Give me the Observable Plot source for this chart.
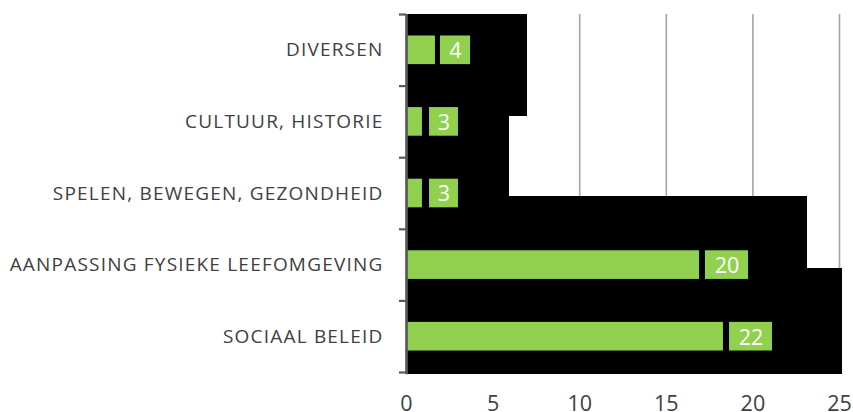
<!DOCTYPE html>
<html>
<head>
<meta charset="utf-8">
<script src="https://cdn.jsdelivr.net/npm/d3@7"></script>
<script src="https://cdn.jsdelivr.net/npm/@observablehq/plot@0.6"></script>
<style>
  html, body { margin: 0; padding: 0; background: #fff; }
  #chart svg { display: block; }
  #chart g[aria-label="y-axis tick label"] text { letter-spacing: 1.2px; }
</style>
</head>
<body>
<div id="chart"></div>
<script>
// Categories (top to bottom)
const categories = ["DIVERSEN", "CULTUUR, HISTORIE", "SPELEN, BEWEGEN, GEZONDHEID", "AANPASSING FYSIEKE LEEFOMGEVING", "SOCIAAL BELEID"];
// Data labels as printed
const labels = [4, 3, 3, 20, 22];
// Green bar ends
const barEnds = [1.67, 0.92, 0.92, 16.92, 18.30];
// Label box start / end
const boxStarts = [1.96, 1.33, 1.33, 17.26, 18.65];
const boxEnds = [3.70, 3.00, 3.00, 19.75, 21.13];
// Black background steps (length and vertical extent in band units)
const blackLens = [6.99, 5.95, 23.15, 25.17];
const blackTop = [0, 1.42, 2.54, 3.55];
const blackBottom = [1.42, 2.54, 3.55, 5.03];
// Axis ticks
const xTicks = [0, 5, 10, 15, 20, 25];
const gridTicks = [5, 10, 15, 20, 25];

const rows = categories.map((c, i) => ({
  cat: c, i, label: labels[i], barEnd: barEnds[i], boxStart: boxStarts[i], boxEnd: boxEnds[i]
}));
const blacks = blackLens.map((v, i) => ({len: v, y1: blackTop[i], y2: blackBottom[i]}));

const font = "'Open Sans', sans-serif";

const chart = Plot.plot({
  width: 853,
  height: 412,
  marginLeft: 406,
  marginRight: 14,
  marginTop: 14,
  marginBottom: 40,
  style: {fontFamily: font, background: "#fff", overflow: "visible"},
  x: {domain: [0, 25], axis: null},
  y: {type: "linear", domain: [0, 5], reverse: true, axis: null},
  marks: [
    Plot.ruleX(gridTicks, {y1: 0, y2: 5, stroke: "#a6a6a6", strokeWidth: 1.6}),
    Plot.rectX(blacks, {x1: 0, x2: "len", y1: "y1", y2: "y2", fill: "#000", shapeRendering: "crispEdges"}),
    Plot.rectX(rows, {x1: 0, x2: "barEnd", y1: d => d.i + 0.3, y2: d => d.i + 0.7, fill: "#92d050"}),
    Plot.rectX(rows, {x1: "boxStart", x2: "boxEnd", y1: d => d.i + 0.3, y2: d => d.i + 0.7, fill: "#92d050"}),
    Plot.text(rows, {x: d => (d.boxStart + d.boxEnd) / 2, y: d => d.i + 0.5, text: d => String(d.label), fill: "#fff", fontSize: 21.5, textAnchor: "middle", dy: 1}),
    Plot.axisY({ticks: [0, 1, 2, 3, 4, 5], tickSize: 7, tickFormat: () => "", stroke: "#595959", strokeWidth: 2.2}),
    Plot.axisY({ticks: categories.map((c, i) => i + 0.5), tickSize: 0, tickPadding: 23, tickFormat: (d) => categories[Math.floor(d)], fontSize: 19, fill: "#404040"}),
    Plot.ruleX([0], {y1: 0, y2: 5.03, stroke: "#595959", strokeWidth: 2.7}),
    Plot.axisX({ticks: xTicks, tickSize: 0, tickPadding: 23, fontSize: 21.5, fill: "#404040", tickFormat: d => String(d)})
  ]
});
document.getElementById("chart").appendChild(chart);
</script>
</body>
</html>
